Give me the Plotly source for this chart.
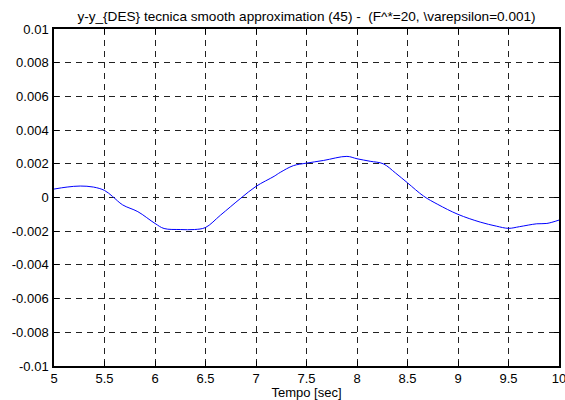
import plotly.graph_objects as go

t = [5.0, 5.13, 5.26, 5.39, 5.5, 5.58, 5.68, 5.83, 6.0, 6.09, 6.25, 6.39, 6.5, 6.65, 6.85,
     7.0, 7.18, 7.24, 7.37, 7.5, 7.67, 7.9, 8.0, 8.13, 8.26, 8.38, 8.5, 8.66, 8.8, 9.0,
     9.22, 9.38, 9.5, 9.61, 9.78, 9.88, 10.0]
err = [0.00050, 0.00062, 0.00068, 0.00062, 0.00042, 0.00006, -0.00044, -0.00084, -0.00154,
       -0.00184, -0.0019, -0.0019, -0.00178, -0.00104, -0.00004, 0.00066, 0.00126, 0.00149,
       0.00189, 0.00204, 0.0022, 0.00244, 0.0023, 0.00215, 0.0020, 0.00146, 0.00087, 0.00008,
       -0.00041, -0.0010, -0.00146, -0.0017, -0.00183, -0.00173, -0.00156, -0.00154, -0.00134]

xticks = [5, 5.5, 6, 6.5, 7, 7.5, 8, 8.5, 9, 9.5, 10]
xlabels = ["5", "5.5", "6", "6.5", "7", "7.5", "8", "8.5", "9", "9.5", "10"]
yticks = [0.01, 0.008, 0.006, 0.004, 0.002, 0, -0.002, -0.004, -0.006, -0.008, -0.01]
ylabels = ["0.01", "0.008", "0.006", "0.004", "0.002", "0", "-0.002", "-0.004", "-0.006", "-0.008", "-0.01"]

FONT = "Liberation Sans, Arial"
fig = go.Figure()
fig.add_trace(go.Scatter(x=t, y=err, mode="lines", line=dict(color="#0000ff", width=1, shape="spline"),
                         showlegend=False))

axis_common = dict(showline=True, linecolor="black", linewidth=1.5, mirror="allticks",
                   ticks="inside", ticklen=5, tickcolor="black",
                   showgrid=True, gridcolor="#222222", gridwidth=0.8, griddash="6px,5px",
                   zeroline=False, ticklabeloverflow="allow",
                   tickfont=dict(family=FONT, size=13, color="black"))

fig.update_xaxes(range=[5, 10], tickvals=xticks, ticktext=xlabels, ticklabelstandoff=0,
                 title=dict(text="Tempo [sec]", standoff=0,
                            font=dict(family=FONT, size=13, color="black")),
                 **axis_common)
fig.update_yaxes(range=[-0.01, 0.01], tickvals=yticks, ticktext=ylabels, ticklabelstandoff=1,
                 **axis_common)

fig.update_layout(
    width=565, height=400,
    margin=dict(l=54, r=6, t=29, b=34, autoexpand=False),
    paper_bgcolor="white", plot_bgcolor="white",
    title=dict(text="y-y_{DES} tecnica smooth approximation (45) -\u00a0 (F^*=20, \\varepsilon=0.001)",
               xref="paper", x=0.5, xanchor="center", y=0.96, yanchor="middle",
               font=dict(family=FONT, size=13.6, color="black")),
)

fig.write_html("out.html", config={"displayModeBar": False},
               post_script="document.body.style.margin='0';document.body.style.overflow='hidden';")
